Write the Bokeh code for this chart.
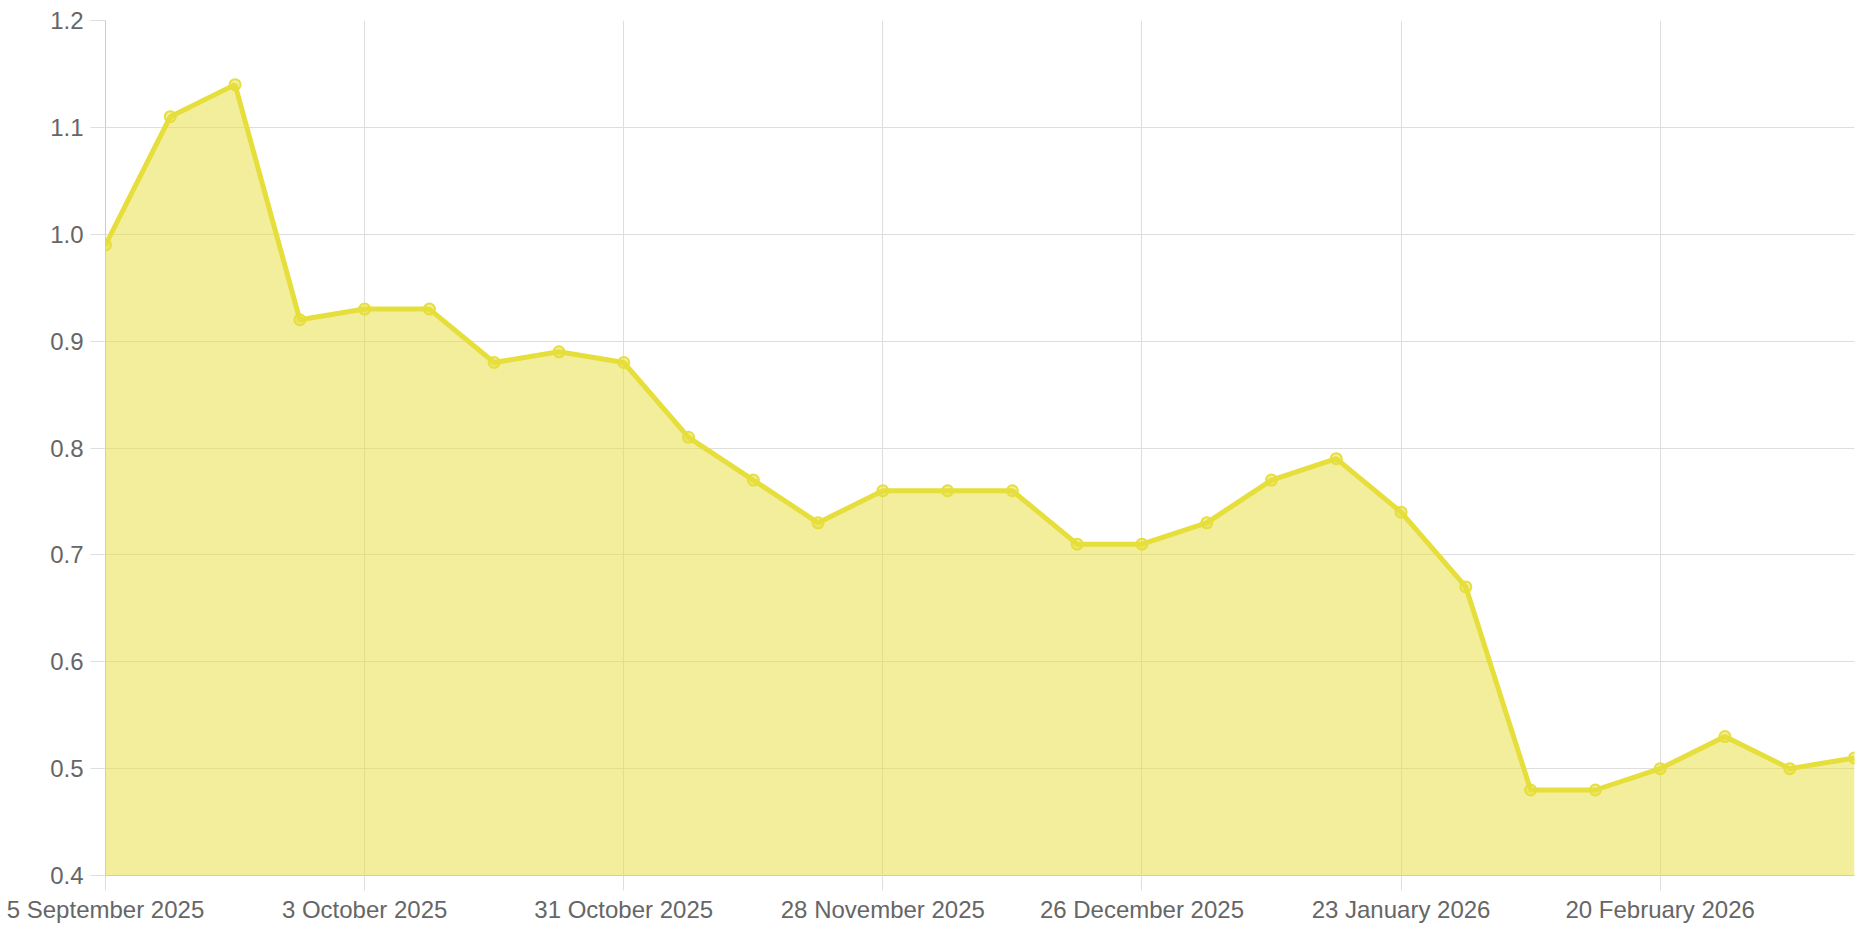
from datetime import datetime
from bokeh.plotting import figure
from bokeh.models import Range1d, FixedTicker, CustomJSTickFormatter, ColumnDataSource
from bokeh.embed import file_html
from bokeh.resources import INLINE

# ---- data ----
dates = ["2025-09-05", "2025-09-12", "2025-09-19", "2025-09-26", "2025-10-03", "2025-10-10",
         "2025-10-17", "2025-10-24", "2025-10-31", "2025-11-07", "2025-11-14", "2025-11-21",
         "2025-11-28", "2025-12-05", "2025-12-12", "2025-12-19", "2025-12-26", "2026-01-02",
         "2026-01-09", "2026-01-16", "2026-01-23", "2026-01-30", "2026-02-06", "2026-02-13",
         "2026-02-20", "2026-02-27", "2026-03-06", "2026-03-13"]
values = [0.99, 1.11, 1.14, 0.92, 0.93, 0.93, 0.88, 0.89, 0.88, 0.81, 0.77, 0.73,
          0.76, 0.76, 0.76, 0.71, 0.71, 0.73, 0.77, 0.79, 0.74, 0.67, 0.48, 0.48,
          0.50, 0.53, 0.50, 0.51]
tick_dates = ["2025-09-05", "2025-10-03", "2025-10-31", "2025-11-28", "2025-12-26",
              "2026-01-23", "2026-02-20"]
tick_labels = ["5 September 2025", "3 October 2025", "31 October 2025", "28 November 2025",
               "26 December 2025", "23 January 2026", "20 February 2026"]
y_ticks = [0.4, 0.5, 0.6, 0.7, 0.8, 0.9, 1.0, 1.1, 1.2]

# ---- styling ----
LINE = "#e6de3a"
GRID = "#dedede"
AXIS = "#cccccc"
TEXT = "#666666"
FONT = "Liberation Sans"
FS = "24px"

x = [datetime.strptime(d, "%Y-%m-%d") for d in dates]
epoch = datetime(1970, 1, 1)
tick_ms = [(datetime.strptime(d, "%Y-%m-%d") - epoch).total_seconds() * 1000 for d in tick_dates]

src = ColumnDataSource(dict(x=x, y=values))

p = figure(x_axis_type="datetime", output_backend="svg", toolbar_location=None,
           frame_width=1749, frame_height=855, min_border_left=105, min_border_top=20,
           min_border_right=4, min_border_bottom=10,
           x_range=Range1d(x[0], x[-1]), y_range=Range1d(0.4, 1.2))
p.outline_line_color = None
p.background_fill_color = "white"
p.border_fill_color = "white"

p.varea(x="x", y1=0.4, y2="y", source=src, fill_color=LINE, fill_alpha=0.5)
p.line(x="x", y="y", source=src, line_color=LINE, line_width=5)
p.scatter(x="x", y="y", source=src, size=11, line_color=LINE, line_width=2,
          fill_color=LINE, fill_alpha=0.5)

p.xaxis.ticker = FixedTicker(ticks=tick_ms)
p.xaxis.formatter = CustomJSTickFormatter(args=dict(ticks_ms=tick_ms, labels=tick_labels), code="""
    for (let i = 0; i < ticks_ms.length; i++) {
        if (Math.abs(ticks_ms[i] - tick) < 1000) return labels[i];
    }
    return "";
""")
p.yaxis.ticker = FixedTicker(ticks=y_ticks)
p.yaxis.formatter = CustomJSTickFormatter(code="return tick.toFixed(1);")

for ax in (p.xaxis[0], p.yaxis[0]):
    ax.axis_line_color = AXIS
    ax.axis_line_width = 1
    ax.major_tick_line_color = GRID
    ax.major_tick_out = 15
    ax.major_tick_in = 0
    ax.minor_tick_line_color = None
    ax.major_label_text_color = TEXT
    ax.major_label_text_font = FONT
    ax.major_label_text_font_size = FS
p.xaxis.major_label_standoff = 5
p.yaxis.major_label_standoff = 7

p.xgrid.grid_line_color = GRID
p.ygrid.grid_line_color = GRID
p.xgrid.ticker = FixedTicker(ticks=tick_ms)
p.ygrid.ticker = FixedTicker(ticks=y_ticks)

open("out.html", "w").write(file_html(p, INLINE))
